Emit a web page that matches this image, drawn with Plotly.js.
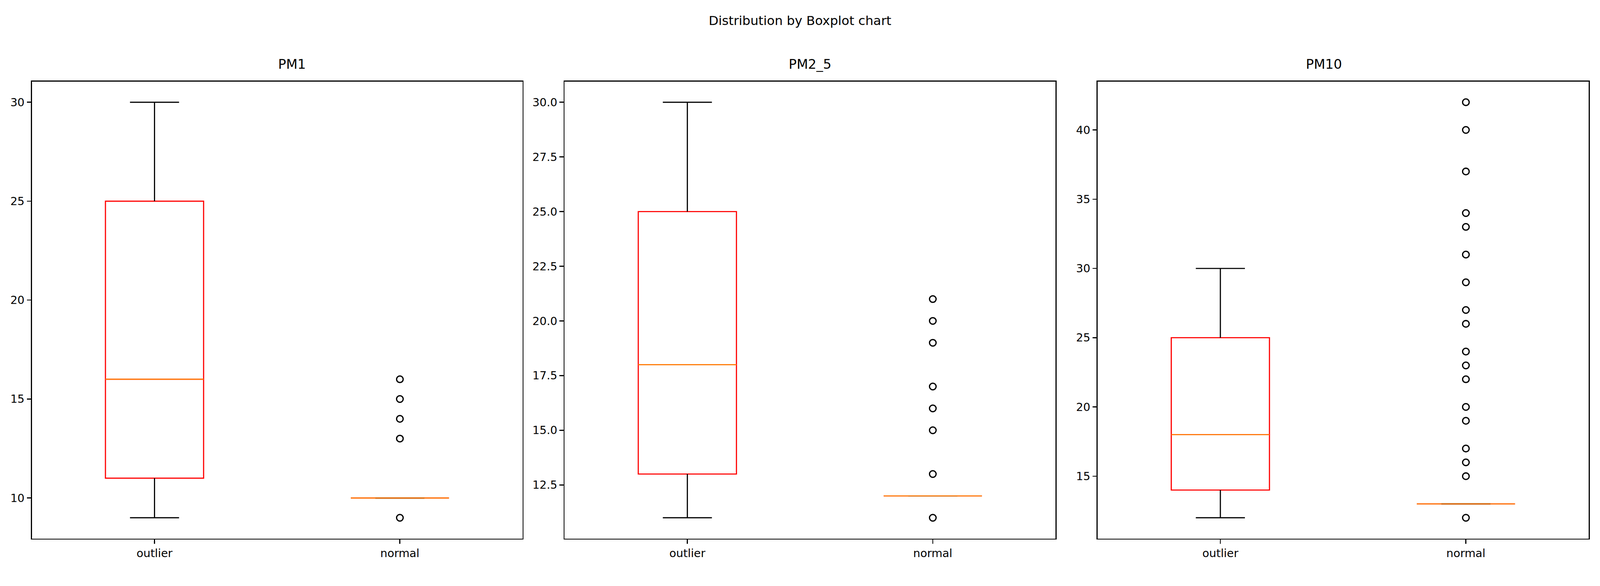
<!DOCTYPE html>
<html>
<head>
<meta charset="utf-8">
<script src="https://cdn.plot.ly/plotly-3.0.1.min.js"></script>
<style>html,body{margin:0;background:#fff;overflow:hidden}#chart{width:100vw;height:100vh}</style>
</head>
<body>
<div id="chart"></div>
<script>
const panels = ['PM1', 'PM2_5', 'PM10'];
const categories = ['outlier', 'normal'];

// per panel: [outlier stats, normal stats] as {lo, q1, med, q3, hi}
const pm1Stats = [{lo: 9, q1: 11, med: 16, q3: 25, hi: 30}, {lo: 10, q1: 10, med: 10, q3: 10, hi: 10}];
const pm25Stats = [{lo: 11, q1: 13, med: 18, q3: 25, hi: 30}, {lo: 12, q1: 12, med: 12, q3: 12, hi: 12}];
const pm10Stats = [{lo: 12, q1: 14, med: 18, q3: 25, hi: 30}, {lo: 13, q1: 13, med: 13, q3: 13, hi: 13}];

const pm1Fliers = [9, 13, 14, 15, 16];
const pm25Fliers = [11, 13, 15, 16, 17, 19, 20, 21];
const pm10Fliers = [12, 15, 16, 17, 19, 20, 22, 23, 24, 26, 27, 29, 31, 33, 34, 37, 40, 42];

const allStats = [pm1Stats, pm25Stats, pm10Stats];
const allFliers = [pm1Fliers, pm25Fliers, pm10Fliers];
const dticks = [5, 2.5, 5];

// the window may be smaller than 6300x1500; scale pixel sizes with it
const W = window.innerWidth, H = window.innerHeight;
const k = Math.min(W / 6300, H / 1500);

const LW = 4.5 * k;
const halfBox = 0.2, halfCap = 0.1;
const font = {family: 'DejaVu Sans', color: '#000'};
const domains = [[0.0199, 0.3266], [0.3529, 0.6597], [0.6860, 0.9929]];

const traces = [];
const layout = {
    width: W, height: H,
    paper_bgcolor: '#fff', plot_bgcolor: '#fff',
    margin: {l: 0, r: 0, t: 0, b: 0},
    showlegend: false,
    title: {text: 'Distribution by Boxplot chart', font: {...font, size: 50 * k}, x: 0.5, y: 0.965, yanchor: 'middle'},
    annotations: []
};

panels.forEach((name, p) => {
    const ax = p === 0 ? '' : String(p + 1);
    const xa = 'x' + ax, ya = 'y' + ax;
    const stats = allStats[p];

    // red boxes (whiskers suppressed by fences at the quartiles)
    traces.push({
        type: 'box', xaxis: xa, yaxis: ya,
        x: [1, 2],
        q1: stats.map(s => s.q1), median: stats.map(s => s.med), q3: stats.map(s => s.q3),
        lowerfence: stats.map(s => s.q1), upperfence: stats.map(s => s.q3),
        width: 2 * halfBox,
        line: {color: 'red', width: LW}, fillcolor: 'rgba(0,0,0,0)',
        hoverinfo: 'skip'
    });

    stats.forEach((s, i) => {
        const x = i + 1;
        // whiskers and caps in black
        traces.push({
            type: 'scatter', mode: 'lines', xaxis: xa, yaxis: ya,
            x: [x, x, null, x - halfCap, x + halfCap, null, x, x, null, x - halfCap, x + halfCap],
            y: [s.lo, s.q1, null, s.lo, s.lo, null, s.q3, s.hi, null, s.hi, s.hi],
            line: {color: 'black', width: LW}, hoverinfo: 'skip'
        });
        // orange median
        traces.push({
            type: 'scatter', mode: 'lines', xaxis: xa, yaxis: ya,
            x: [x - halfBox, x + halfBox], y: [s.med, s.med],
            line: {color: '#ff7f0e', width: LW}, hoverinfo: 'skip'
        });
    });

    // fliers of the "normal" group
    traces.push({
        type: 'scatter', mode: 'markers', xaxis: xa, yaxis: ya,
        x: allFliers[p].map(() => 2), y: allFliers[p],
        marker: {symbol: 'circle-open', size: 26 * k, color: 'black', line: {width: 5 * k, color: 'black'}},
        hoverinfo: 'skip'
    });

    const vals = allFliers[p].concat(stats.flatMap(s => [s.lo, s.hi]));
    const lo = Math.min(...vals), hi = Math.max(...vals), pad = 0.05 * (hi - lo);

    const axStyle = {
        ticks: 'outside', ticklen: 16 * k, tickwidth: 4 * k, tickcolor: '#000',
        tickfont: {...font, size: 44 * k},
        showgrid: false, zeroline: false,
        showline: true, mirror: true, linecolor: '#000', linewidth: 4 * k
    };
    layout['xaxis' + ax] = {
        ...axStyle, domain: domains[p], anchor: ya, range: [0.5, 2.5],
        tickvals: [1, 2], ticktext: categories
    };
    layout['yaxis' + ax] = {
        ...axStyle, domain: [0.081, 0.861], anchor: xa, range: [lo - pad, hi + pad],
        dtick: dticks[p], tickformat: p === 1 ? '.1f' : 'd'
    };
    layout.annotations.push({
        text: name, showarrow: false, xref: 'paper', yref: 'paper',
        x: (domains[p][0] + domains[p][1]) / 2, y: 0.89, yanchor: 'middle',
        font: {...font, size: 52 * k}
    });
});

Plotly.newPlot('chart', traces, layout, {staticPlot: true});
</script>
</body>
</html>
